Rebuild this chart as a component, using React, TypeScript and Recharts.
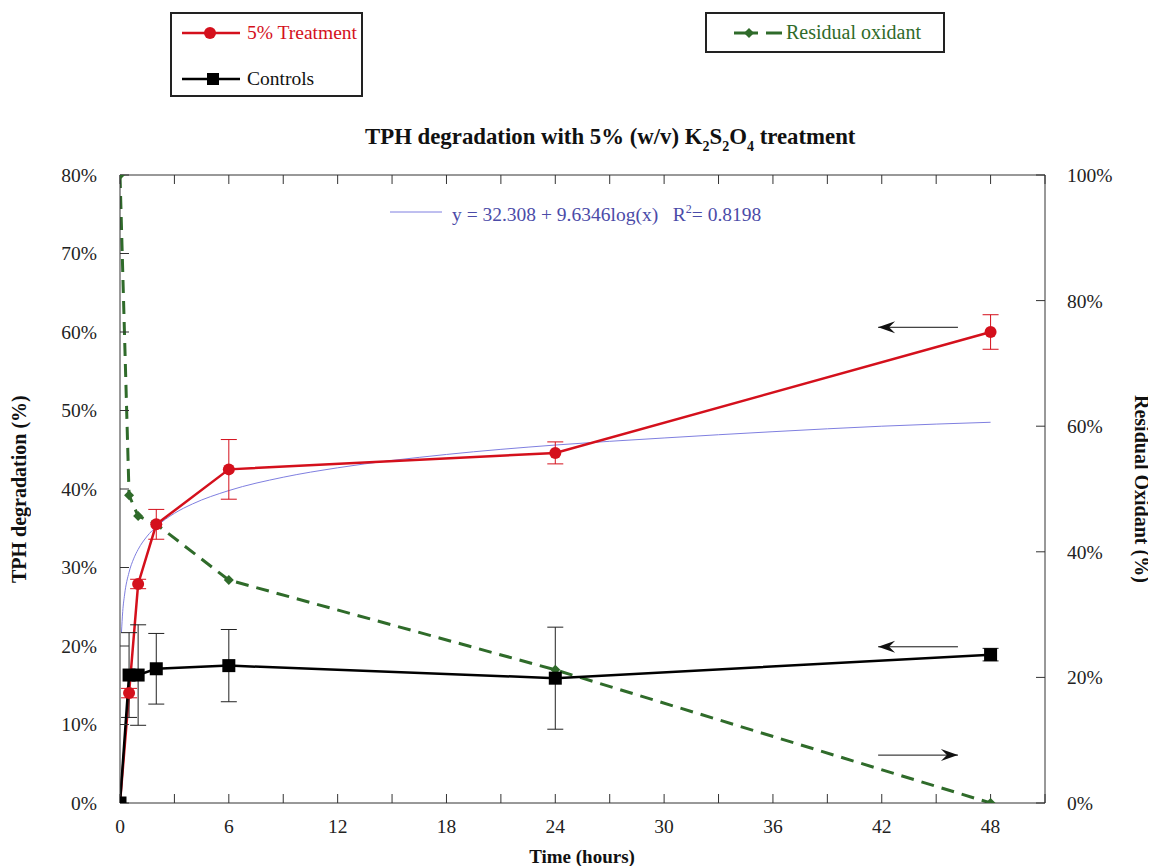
import React from "react";
import {
  LineChart,
  Line,
  XAxis,
  YAxis,
  ErrorBar,
  ReferenceLine,
} from "recharts";

/* ---------------- DATA ---------------- */
const hours = [0, 0.5, 1, 2, 6, 24, 48];
const treatment = [0, 14, 27.9, 35.5, 42.5, 44.6, 60];
const treatmentErr = [0, 0.6, 0.6, 1.9, 3.8, 1.4, 2.2];
const controls = [0, 16.3, 16.3, 17.1, 17.5, 15.9, 18.9];
const controlsErr = [0, 5.4, 6.4, 4.5, 4.6, 6.5, 0.8];
const oxidant = [100, 49, 45.7, 44.4, 35.5, 21.2, 0];

// fitted log trend
const trendHours = [0.08, 0.15, 0.25, 0.5, 0.75, 1, 1.5, 2, 3, 4, 6, 9, 12, 18, 24, 30, 36, 42, 48];
const trendValues = [21.7, 24.4, 26.5, 29.4, 31.1, 32.3, 34.0, 35.2, 36.9, 38.1, 39.8, 41.5, 42.7, 44.4, 45.6, 46.5, 47.3, 48.0, 48.5];

const xTicks = [0, 3, 6, 9, 12, 15, 18, 21, 24, 27, 30, 33, 36, 39, 42, 45, 48, 51];
const leftTicks = [0, 10, 20, 30, 40, 50, 60, 70, 80];
const rightTicks = [0, 20, 40, 60, 80, 100];

const RED = "#d4101c";
const GREEN = "#2f6b2a";
const BLUE = "#7f7fe0";
const FONT = '"Liberation Serif", "Times New Roman", serif';

const treatmentData = hours.map((h, i) => ({ h, value: treatment[i], err: treatmentErr[i] }));
const controlsData = hours.map((h, i) => ({ h, value: controls[i], err: controlsErr[i] }));
const oxidantData = hours.map((h, i) => ({ h, value: oxidant[i] }));
const trendData = trendHours.map((h, i) => ({ h, value: trendValues[i] }));

/* ---------------- MARKERS ---------------- */
const CircleDot = (p: any) => <circle key={p.index} cx={p.cx} cy={p.cy} r={6} fill={RED} />;
const SquareDot = (p: any) => (
  <rect key={p.index} x={p.cx - 6.5} y={p.cy - 6.5} width={13} height={13} fill="#000" />
);
const DiamondDot = (p: any) => (
  <path
    key={p.index}
    d={`M${p.cx},${p.cy - 5} L${p.cx + 5},${p.cy} L${p.cx},${p.cy + 5} L${p.cx - 5},${p.cy} Z`}
    fill={GREEN}
  />
);

const Arrow = (p: any) => {
  const dir = p.x2 > p.x1 ? 1 : -1;
  const { x2, y2 } = p;
  return (
    <g>
      <line x1={p.x1} y1={p.y1} x2={x2} y2={y2} stroke="#111" strokeWidth={1} />
      <path
        d={`M${x2},${y2} L${x2 - dir * 17},${y2 - 6} L${x2 - dir * 11},${y2} L${x2 - dir * 17},${y2 + 6} Z`}
        fill="#111"
      />
    </g>
  );
};

const tickStyle = { fontFamily: FONT, fontSize: 19.5, fill: "#222" };
const axisTitle = {
  position: "absolute" as const,
  fontSize: 20,
  fontWeight: "bold" as const,
  whiteSpace: "nowrap" as const,
  color: "#111",
};

export default function App() {
  return (
    <div style={{ position: "relative", width: 1140, height: 858, fontFamily: FONT }}>
      <LineChart
        width={1140}
        height={858}
        margin={{ top: 157, right: 43, bottom: 33, left: 52 }}
      >
        <XAxis
          dataKey="h"
          type="number"
          domain={[0, 51]}
          ticks={xTicks}
          tickFormatter={(v) => (v % 6 === 0 && v <= 48 ? String(v) : "")}
          interval={0}
          height={30}
          stroke="#333"
          tickSize={-9}
          tickMargin={25}
          tick={tickStyle}
          allowDataOverflow
        />
        <XAxis
          xAxisId="top"
          orientation="top"
          dataKey="h"
          type="number"
          domain={[0, 51]}
          ticks={xTicks}
          interval={0}
          tickFormatter={() => ""}
          height={10}
          stroke="#333"
          tickSize={-9}
          allowDataOverflow
        />
        <YAxis
          yAxisId="left"
          type="number"
          domain={[0, 80]}
          ticks={leftTicks}
          tickFormatter={(v) => `${v}%`}
          interval={0}
          width={60}
          stroke="#333"
          tickSize={-9}
          tickMargin={32}
          tick={tickStyle}
          allowDataOverflow
        />
        <YAxis
          yAxisId="right"
          orientation="right"
          type="number"
          domain={[0, 100]}
          ticks={rightTicks}
          tickFormatter={(v) => `${v}%`}
          interval={0}
          width={60}
          stroke="#333"
          tickSize={-9}
          tickMargin={31}
          tick={{ ...tickStyle, textAnchor: "start" }}
          allowDataOverflow
        />

        <Line
          yAxisId="right"
          data={oxidantData}
          dataKey="value"
          type="linear"
          stroke={GREEN}
          strokeWidth={3}
          strokeDasharray="13 8"
          dot={DiamondDot}
          isAnimationActive={false}
        />
        <Line
          yAxisId="left"
          data={trendData}
          dataKey="value"
          type="monotone"
          stroke={BLUE}
          strokeWidth={1}
          dot={false}
          isAnimationActive={false}
        />
        <Line
          yAxisId="left"
          data={treatmentData}
          dataKey="value"
          type="linear"
          stroke={RED}
          strokeWidth={2.5}
          dot={CircleDot}
          isAnimationActive={false}
        >
          <ErrorBar dataKey="err" direction="y" width={8} stroke={RED} strokeWidth={1} />
        </Line>
        <Line
          yAxisId="left"
          data={controlsData}
          dataKey="value"
          type="linear"
          stroke="#000"
          strokeWidth={2.5}
          dot={SquareDot}
          isAnimationActive={false}
        >
          <ErrorBar dataKey="err" direction="y" width={8} stroke="#222" strokeWidth={1} />
        </Line>

        <ReferenceLine
          yAxisId="left"
          segment={[{ x: 46.2, y: 60.6 }, { x: 41.8, y: 60.6 }]}
          shape={Arrow}
        />
        <ReferenceLine
          yAxisId="left"
          segment={[{ x: 46.2, y: 19.9 }, { x: 41.8, y: 19.9 }]}
          shape={Arrow}
        />
        <ReferenceLine
          yAxisId="left"
          segment={[{ x: 41.8, y: 6.1 }, { x: 46.2, y: 6.1 }]}
          shape={Arrow}
        />
      </LineChart>

      {/* ================= LEGENDS ================= */}
      <div
        style={{
          position: "absolute",
          left: 162,
          top: 4,
          width: 189,
          height: 81,
          border: "2px solid #222",
          fontSize: 19.5,
        }}
      >
        <div style={{ position: "absolute", left: 10, top: 8, display: "flex", alignItems: "center", color: RED }}>
          <svg width={60} height={16}>
            <line x1={0} y1={8} x2={58} y2={8} stroke={RED} strokeWidth={2.5} />
            <circle cx={28} cy={8} r={6} fill={RED} />
          </svg>
          <span style={{ marginLeft: 5 }}>5% Treatment</span>
        </div>
        <div style={{ position: "absolute", left: 10, top: 54, display: "flex", alignItems: "center", color: "#111" }}>
          <svg width={60} height={16}>
            <line x1={0} y1={8} x2={58} y2={8} stroke="#000" strokeWidth={2.5} />
            <rect x={25} y={2} width={12} height={12} fill="#000" />
          </svg>
          <span style={{ marginLeft: 5 }}>Controls</span>
        </div>
      </div>
      <div
        style={{
          position: "absolute",
          left: 697,
          top: 4,
          width: 236,
          height: 37,
          border: "2px solid #222",
          fontSize: 20,
        }}
      >
        <div style={{ position: "absolute", left: 27, top: 7, display: "flex", alignItems: "center", color: GREEN }}>
          <svg width={50} height={16}>
            <line x1={0} y1={8} x2={24} y2={8} stroke={GREEN} strokeWidth={3} />
            <line x1={32} y1={8} x2={48} y2={8} stroke={GREEN} strokeWidth={3} />
            <path d="M15,3 L20,8 L15,13 L10,8 Z" fill={GREEN} />
          </svg>
          <span style={{ marginLeft: 2 }}>Residual oxidant</span>
        </div>
      </div>

      {/* ================= TITLE & LABELS ================= */}
      <div
        style={{
          position: "absolute",
          left: 357,
          top: 115,
          fontSize: 22.8,
          fontWeight: "bold",
          color: "#111",
          whiteSpace: "nowrap",
          lineHeight: "28px",
        }}
      >
        TPH degradation with 5% (w/v) K
        <sub style={{ fontSize: 14, verticalAlign: "-7px" }}>2</sub>S
        <sub style={{ fontSize: 14, verticalAlign: "-7px" }}>2</sub>O
        <sub style={{ fontSize: 14, verticalAlign: "-7px" }}>4</sub> treatment
      </div>

      <div
        style={{
          position: "absolute",
          left: 382,
          top: 194,
          display: "flex",
          alignItems: "center",
          color: "#4b4ba8",
          fontSize: 19.5,
          whiteSpace: "nowrap",
        }}
      >
        <svg width={62} height={10}>
          <line x1={0} y1={3} x2={52} y2={3} stroke={BLUE} strokeWidth={1} />
        </svg>
        <span>
          y = 32.308 + 9.6346log(x)&nbsp;&nbsp;&nbsp;R<sup style={{ fontSize: 12 }}>2</sup>= 0.8198
        </span>
      </div>

      <div
        style={{
          ...axisTitle,
          left: 0,
          top: 385,
          height: 193,
          writingMode: "vertical-rl",
          transform: "rotate(180deg)",
          textAlign: "center",
        }}
      >
        TPH degradation (%)
      </div>
      <div
        style={{
          ...axisTitle,
          left: 1122,
          top: 377,
          height: 208,
          writingMode: "vertical-rl",
          textAlign: "center",
        }}
      >
        Residual Oxidant (%)
      </div>
      <div style={{ ...axisTitle, left: 574, top: 849, fontSize: 19, transform: "translate(-50%, -50%)" }}>
        Time (hours)
      </div>
    </div>
  );
}
